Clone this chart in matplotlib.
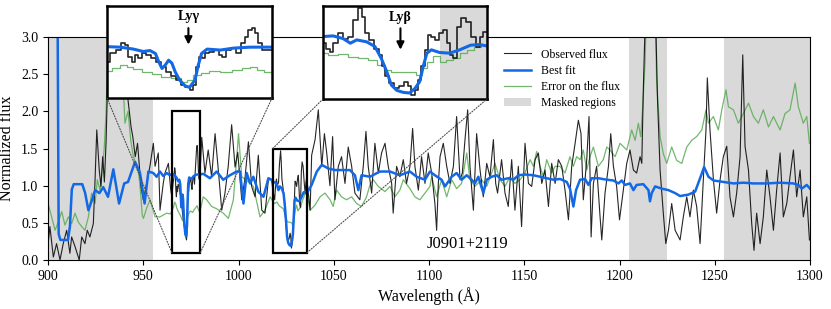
import numpy as np
import matplotlib
matplotlib.use("Agg")
import matplotlib.pyplot as plt
from matplotlib.patches import Rectangle, ConnectionPatch

plt.rcParams['font.family'] = ['Liberation Serif', 'DejaVu Serif']

# (wavelength, flux)
observed = [
    (900.0, 0.20), (901.0, 0.45), (902.8, 0.04), (904.5, 0.22), (906.3, 0.00), (908.0, 0.22),
    (909.8, 0.40), (911.5, 0.09), (912.4, 0.31), (914.2, 0.18), (916.4, 0.00), (917.7, 0.31),
    (919.4, 0.22), (920.6, 0.40), (922.0, 0.31), (923.8, 0.49), (924.7, 1.08), (925.6, 1.75),
    (926.9, 1.21), (927.8, 0.99), (928.7, 1.39), (929.6, 1.05), (930.5, 1.60), (931.5, 2.60),
    (933.0, 3.40), (935.0, 3.80), (937.0, 3.30), (939.0, 2.70), (941.0, 2.40), (941.8, 2.20),
    (943.6, 1.79), (944.5, 1.66), (945.8, 1.39), (947.0, 1.57), (948.8, 0.99), (950.0, 0.81),
    (951.8, 1.03), (953.5, 1.26), (955.3, 1.57), (956.2, 1.26), (957.9, 1.44), (958.8, 0.67),
    (960.5, 1.03), (961.4, 1.17), (963.2, 1.30), (964.4, 0.95),
    (965.0, 0.85), (965.6, 1.02), (966.0, 1.09), (966.5, 1.24), (966.8, 1.19), (967.1, 0.95),
    (967.4, 0.85), (967.7, 0.99), (968.0, 0.92), (968.3, 1.02), (968.8, 0.99), (969.2, 0.92),
    (969.7, 0.85), (970.1, 0.75), (970.6, 0.64), (971.0, 0.55), (971.5, 0.47), (971.9, 0.37),
    (972.3, 0.32), (972.7, 0.27), (973.0, 0.37), (973.2, 0.75), (973.5, 0.95), (973.8, 0.92),
    (974.1, 1.02), (974.5, 1.06), (975.0, 1.09), (975.3, 0.99), (975.6, 0.95), (976.0, 1.09),
    (976.5, 1.13), (976.9, 1.02), (977.4, 1.23), (977.7, 1.37), (978.0, 1.50), (978.3, 1.54),
    (978.6, 1.44), (978.9, 1.23), (979.2, 1.09), (979.7, 1.09),
    (980.7, 1.65), (982.4, 1.17), (984.1, 1.48), (985.9, 1.12), (987.7, 1.70), (989.4, 1.21),
    (991.2, 0.67), (992.9, 0.90), (994.6, 1.26), (996.4, 1.82), (998.2, 1.25), (999.6, 1.45),
    (1001.7, 0.81), (1003.4, 1.10), (1005.2, 1.59), (1006.9, 0.99), (1008.7, 0.85), (1010.4, 1.41),
    (1012.2, 0.67), (1013.9, 0.63), (1015.7, 1.08), (1017.4, 1.08),
    (1018.0, 0.94), (1018.6, 0.86), (1019.0, 0.81), (1019.3, 0.94), (1019.9, 1.09), (1020.4, 1.01),
    (1021.0, 1.04), (1021.5, 1.29), (1022.1, 1.47), (1022.4, 1.34), (1022.8, 1.09), (1023.3, 0.99),
    (1023.9, 0.86), (1024.3, 0.76), (1024.6, 0.59), (1025.0, 0.44), (1025.5, 0.34), (1026.1, 0.26),
    (1026.6, 0.29), (1027.1, 0.36), (1027.5, 0.29), (1027.8, 0.16), (1028.3, 0.24), (1028.6, 0.39),
    (1029.0, 0.59), (1029.4, 0.84), (1029.7, 1.06), (1030.1, 1.04), (1030.5, 0.99), (1031.0, 1.09),
    (1031.4, 1.14), (1031.8, 0.94), (1032.1, 0.76), (1032.5, 0.71), (1033.0, 1.19), (1033.4, 1.32),
    (1033.9, 1.26), (1034.5, 1.04), (1035.0, 0.89), (1035.4, 1.04), (1035.8, 1.11),
    (1037.6, 0.67), (1038.4, 1.41), (1040.2, 1.62), (1041.9, 2.02), (1043.7, 1.26), (1045.1, 1.70),
    (1046.3, 1.44), (1048.0, 1.00), (1049.4, 1.66), (1050.6, 0.81), (1052.4, 1.26), (1054.1, 1.39),
    (1055.9, 1.03), (1057.6, 1.52), (1059.4, 1.26), (1061.1, 0.90), (1063.7, 0.81), (1065.5, 1.26),
    (1066.9, 1.73), (1068.1, 1.26), (1069.9, 0.90), (1071.6, 1.57), (1073.4, 1.17), (1075.1, 1.44),
    (1076.9, 1.57), (1078.6, 1.26), (1080.4, 1.03), (1081.2, 0.63), (1083.0, 1.26), (1084.7, 1.12),
    (1086.5, 1.35), (1088.2, 1.03), (1090.0, 1.26), (1091.4, 1.77), (1092.6, 1.26), (1094.4, 0.94),
    (1096.1, 1.39), (1097.9, 1.03), (1099.6, 1.44), (1101.4, 1.17), (1103.1, 0.76), (1104.0, 0.40),
    (1104.9, 1.03), (1105.8, 1.39), (1107.5, 1.57), (1109.3, 1.26), (1111.0, 1.03), (1112.8, 1.26),
    (1114.5, 1.93), (1116.3, 1.08), (1117.5, 1.17), (1118.9, 1.62), (1120.3, 2.02), (1121.5, 1.26),
    (1123.3, 0.67), (1125.0, 1.70), (1126.8, 1.21), (1128.5, 0.85), (1130.3, 1.30), (1132.0, 1.12),
    (1133.8, 1.62), (1135.0, 1.03), (1136.0, 0.90), (1138.1, 1.35), (1139.9, 0.90), (1141.6, 0.72),
    (1143.4, 1.35), (1145.1, 0.67), (1146.9, 1.26), (1148.6, 0.45), (1150.4, 1.57), (1152.2, 1.03),
    (1153.9, 0.99), (1155.7, 1.35), (1157.4, 1.44), (1159.2, 1.03), (1160.9, 1.21), (1162.7, 0.72),
    (1164.4, 1.30), (1166.2, 1.03), (1167.9, 1.35), (1169.7, 1.26), (1171.4, 0.94), (1173.2, 0.54),
    (1174.9, 1.26), (1176.7, 1.57), (1178.4, 1.88), (1179.8, 1.70), (1181.0, 0.81), (1182.8, 1.35),
    (1184.0, 1.93), (1185.1, 0.31), (1186.3, 1.03), (1188.0, 1.26), (1189.8, 0.58), (1190.7, 0.27),
    (1192.4, 0.90), (1194.2, 1.26), (1195.4, 1.70), (1196.8, 1.26), (1198.5, 0.99), (1200.0, 0.54),
    (1202.0, 0.94), (1203.8, 1.30), (1205.5, 1.48), (1207.3, 1.21), (1209.0, 1.17), (1210.8, 1.39),
    (1211.7, 1.30), (1212.5, 2.29), (1213.9, 3.60), (1216.0, 4.20), (1218.7, 3.60), (1219.9, 2.20),
    (1221.3, 1.21), (1223.0, 0.63), (1224.3, 0.22), (1225.7, 0.40), (1227.4, 0.76), (1229.2, 0.40),
    (1231.8, 0.27), (1233.5, 0.58), (1235.3, 0.85), (1237.0, 0.58), (1238.8, 0.94), (1240.5, 0.72),
    (1242.3, 0.22), (1244.0, 1.08), (1245.4, 1.75), (1246.1, 2.45), (1247.5, 1.75), (1249.3, 1.08),
    (1251.0, 0.63), (1252.8, 1.08), (1254.5, 1.39), (1256.3, 1.53), (1258.0, 0.85), (1259.8, 0.58),
    (1261.5, 0.90), (1263.3, 1.39), (1264.7, 2.76), (1265.9, 1.53), (1267.7, 1.21), (1269.4, 0.49),
    (1270.6, 0.13), (1272.0, 0.63), (1273.8, 0.22), (1275.5, 0.58), (1277.3, 1.21), (1279.0, 0.85),
    (1280.8, 0.40), (1282.5, 0.94), (1284.3, 1.44), (1286.0, 0.58), (1287.8, 0.76), (1289.5, 1.12),
    (1291.3, 1.48), (1293.0, 0.85), (1294.8, 1.21), (1296.5, 0.58), (1298.3, 0.85), (1299.7, 0.27),
]

best_fit = [
    (905.0, 3.50), (905.6, 0.35), (906.5, 0.27), (910.5, 0.27), (911.5, 0.45), (912.5, 0.95),
    (913.5, 1.02), (918.0, 1.02), (919.5, 0.90), (921.2, 0.67), (923.0, 0.80), (924.7, 0.94),
    (927.0, 0.90), (929.0, 0.98), (931.5, 0.85), (934.3, 1.22), (937.3, 0.76), (940.0, 1.03),
    (942.0, 1.05), (945.7, 1.32), (948.3, 1.17), (950.7, 0.76), (952.7, 1.19), (955.3, 1.17),
    (957.0, 1.12), (958.8, 1.19), (960.5, 1.13), (962.3, 1.17), (964.0, 1.14),
    (965.0, 1.16), (966.2, 1.15), (967.4, 1.11), (968.3, 1.06), (968.9, 1.08), (969.4, 1.02),
    (969.7, 0.85), (970.0, 0.71), (970.3, 0.78), (970.6, 0.88), (970.9, 0.82), (971.2, 0.64),
    (971.6, 0.47), (972.1, 0.35), (972.5, 0.32), (973.0, 0.47), (973.3, 0.78), (973.6, 1.02),
    (974.1, 1.11), (975.3, 1.09), (976.5, 1.13), (978.0, 1.15), (979.7, 1.15),
    (981.5, 1.16), (985.0, 1.10), (988.5, 1.19), (992.0, 1.08), (995.5, 1.14), (999.0, 1.19),
    (1000.8, 1.19), (1002.6, 0.76), (1004.3, 1.17), (1006.1, 1.03), (1007.8, 1.12), (1010.4, 0.92),
    (1013.1, 0.85), (1015.7, 1.10), (1017.4, 1.08),
    (1018.0, 1.04), (1019.1, 1.05), (1020.2, 1.01), (1021.0, 0.94), (1021.7, 0.99), (1022.8, 0.96),
    (1023.7, 0.89), (1024.4, 0.71), (1025.0, 0.51), (1025.5, 0.31), (1026.1, 0.23), (1026.8, 0.20),
    (1027.5, 0.19), (1028.1, 0.26), (1028.6, 0.36), (1029.0, 0.59), (1029.4, 0.79), (1029.9, 0.84),
    (1030.8, 0.80), (1031.9, 0.79), (1033.0, 0.84), (1034.2, 0.91), (1035.2, 0.92), (1035.9, 0.90),
    (1038.4, 1.01), (1041.1, 1.19), (1043.7, 1.28), (1047.2, 1.23), (1050.7, 1.21), (1053.2, 1.21),
    (1058.5, 1.21), (1061.1, 1.14), (1062.9, 0.94), (1064.6, 1.14), (1069.0, 1.12), (1074.2, 1.19),
    (1079.5, 1.19), (1084.7, 1.14), (1090.0, 1.19), (1093.5, 1.12), (1097.9, 1.08), (1100.5, 1.19),
    (1103.1, 1.14), (1106.6, 1.08), (1108.4, 0.99), (1111.9, 1.12), (1114.5, 1.17), (1117.1, 1.08),
    (1119.8, 1.14), (1122.4, 1.08), (1124.1, 1.03), (1125.9, 1.12), (1128.5, 0.90), (1130.3, 1.08),
    (1132.9, 1.12), (1135.5, 1.14), (1138.1, 1.08), (1141.6, 1.10), (1144.3, 1.08), (1146.9, 1.14),
    (1150.4, 1.15), (1154.8, 1.14), (1158.3, 1.12), (1161.8, 1.10), (1165.3, 1.08), (1168.8, 1.09),
    (1172.3, 1.05), (1174.0, 0.96), (1175.8, 0.72), (1177.2, 0.94), (1179.3, 1.08), (1181.9, 1.09),
    (1183.7, 1.01), (1185.4, 1.10), (1188.9, 1.10), (1193.3, 1.08), (1196.8, 1.07), (1199.4, 1.03),
    (1201.2, 1.07), (1202.9, 1.01), (1205.5, 1.03), (1207.3, 0.94), (1209.0, 1.01), (1212.5, 1.02),
    (1215.2, 0.94), (1216.0, 0.79), (1216.9, 0.90), (1218.7, 0.99), (1222.2, 0.96), (1225.7, 0.94),
    (1229.2, 0.90), (1231.8, 0.86), (1236.2, 0.88), (1239.7, 0.92), (1242.3, 1.10), (1244.4, 1.25),
    (1246.7, 1.12), (1249.3, 1.07), (1254.5, 1.05), (1259.8, 1.03), (1265.0, 1.04), (1270.3, 1.03),
    (1277.3, 1.03), (1284.3, 1.04), (1291.3, 1.03), (1293.9, 1.01), (1295.7, 0.96), (1298.3, 1.01),
    (1300.0, 0.96),
]

flux_error = [
    (900.0, 0.76), (901.9, 0.58), (903.7, 0.40), (905.4, 0.51), (907.2, 0.65), (908.9, 0.47),
    (910.7, 0.58), (912.4, 0.49), (914.2, 0.63), (915.9, 0.51), (917.7, 0.45), (919.4, 0.40),
    (921.2, 0.58), (922.9, 0.90), (924.7, 0.76), (925.9, 1.08), (927.3, 0.94), (928.5, 1.21),
    (929.5, 1.50), (930.5, 2.00), (931.5, 2.80), (933.0, 3.30), (935.0, 3.50), (937.0, 3.20),
    (939.0, 2.60), (940.4, 1.84), (942.0, 2.00), (943.5, 1.60), (944.8, 1.39), (947.4, 1.21),
    (948.3, 1.00), (949.5, 0.60), (950.1, 0.56), (951.8, 0.70), (953.6, 0.81), (956.2, 0.58),
    (958.8, 0.58), (962.3, 0.63), (964.3, 0.62),
    (965.0, 0.66), (965.9, 0.71), (966.5, 0.78), (967.1, 0.75), (967.7, 0.69), (968.6, 0.64),
    (969.5, 0.60), (970.4, 0.54), (971.3, 0.51), (972.1, 0.44), (972.5, 0.47), (973.2, 0.57),
    (973.8, 0.62), (974.7, 0.66), (975.9, 0.64), (976.8, 0.68), (977.7, 0.71), (978.3, 0.73),
    (978.9, 0.68), (979.7, 0.64),
    (981.5, 0.85), (983.3, 0.81), (985.9, 0.72), (988.5, 0.69), (992.0, 0.63), (994.7, 0.56),
    (997.3, 0.81), (999.0, 1.35), (1000.0, 1.70), (1001.7, 1.12), (1005.2, 1.05), (1007.8, 0.99),
    (1011.3, 0.58), (1013.9, 0.67), (1016.6, 0.85),
    (1018.0, 0.79), (1019.1, 0.76), (1020.2, 0.78), (1021.3, 0.73), (1022.4, 0.71), (1023.5, 0.69),
    (1024.4, 0.61), (1025.0, 0.54), (1025.9, 0.51), (1026.8, 0.51), (1027.9, 0.50), (1028.6, 0.46),
    (1029.2, 0.56), (1029.7, 0.66), (1030.5, 0.74), (1031.2, 0.66), (1031.9, 0.69), (1032.7, 0.71),
    (1033.4, 0.79), (1034.2, 0.84), (1034.9, 0.89), (1035.8, 0.91),
    (1037.6, 0.67), (1040.2, 0.74), (1042.8, 0.85), (1045.4, 0.90), (1048.1, 0.81), (1049.7, 0.72),
    (1051.5, 0.94), (1054.1, 0.85), (1056.7, 0.81), (1059.4, 0.85), (1062.0, 0.76), (1064.6, 0.72),
    (1067.2, 0.85), (1069.0, 1.01), (1070.7, 1.08), (1073.4, 0.99), (1076.9, 0.92), (1079.5, 0.99),
    (1082.1, 0.85), (1084.7, 0.94), (1086.5, 1.08), (1090.0, 0.96), (1092.6, 0.85), (1095.2, 0.81),
    (1097.9, 0.90), (1100.5, 0.99), (1101.4, 1.12), (1104.0, 0.85), (1106.6, 1.08), (1109.3, 0.85),
    (1111.9, 1.08), (1114.5, 0.96), (1117.1, 1.03), (1119.8, 1.44), (1121.5, 1.08), (1124.1, 0.99),
    (1127.6, 1.08), (1130.3, 0.99), (1132.9, 1.17), (1134.6, 1.30), (1137.3, 1.08), (1139.9, 0.99),
    (1142.5, 1.12), (1145.1, 1.03), (1147.8, 1.08), (1150.4, 1.17), (1151.6, 1.26), (1153.1, 1.35),
    (1154.8, 1.26), (1156.5, 1.46), (1158.3, 1.26), (1160.0, 1.12), (1161.8, 1.35), (1164.4, 1.17),
    (1166.2, 1.26), (1168.8, 1.26), (1171.4, 1.17), (1174.0, 1.39), (1175.8, 1.26), (1177.5, 1.39),
    (1179.3, 1.35), (1181.0, 1.48), (1182.8, 1.21), (1184.5, 1.39), (1186.3, 1.52), (1188.9, 1.26),
    (1191.5, 1.35), (1193.3, 1.52), (1195.0, 1.48), (1197.7, 1.39), (1200.3, 1.57), (1203.8, 1.48),
    (1206.4, 1.75), (1208.2, 1.61), (1209.9, 1.84), (1211.1, 1.66), (1212.2, 2.06), (1213.4, 2.65),
    (1214.3, 3.50), (1216.0, 4.00), (1218.7, 3.30), (1219.5, 2.42), (1221.3, 1.66), (1223.0, 1.43),
    (1224.8, 1.30), (1227.4, 1.52), (1230.0, 1.34), (1232.7, 1.30), (1235.3, 1.52), (1237.9, 1.61),
    (1240.5, 1.66), (1243.2, 1.75), (1245.4, 2.02), (1246.7, 1.84), (1249.3, 1.93), (1251.9, 1.75),
    (1253.7, 2.02), (1255.9, 2.29), (1257.2, 2.06), (1259.8, 2.02), (1262.4, 1.84), (1265.0, 1.97),
    (1267.7, 2.11), (1270.3, 1.93), (1272.9, 1.84), (1275.5, 2.02), (1278.2, 1.79), (1280.8, 1.93),
    (1284.3, 1.75), (1286.9, 1.97), (1289.5, 2.02), (1292.2, 2.38), (1293.9, 2.06), (1296.5, 1.84),
    (1298.3, 1.93), (1299.7, 1.57),
]

masked_regions = [(900, 955), (1205, 1225), (1255, 1300)]
inset_masked = [(1030.8, 1036.0)]

# zoom windows: (wave_min, wave_max, flux_min, flux_max), label, line centre
zoom_windows = [(965, 980, 0.1, 2.0), (1018, 1036, 0.1, 1.5)]
zoom_labels = ["Lyγ", "Lyβ"]
zoom_lines = [972.4, 1026.5]

C_OBS = 'k'
C_FIT = '#1368e6'
C_ERR = '#5aab55'
C_MASK = '#d9d9d9'


def draw_spectrum(ax, lw_fit, steps=False):
    ds = 'steps-mid' if steps else 'default'
    w, f = np.array(flux_error).T
    ax.plot(w, f, color=C_ERR, lw=0.9, alpha=0.85, drawstyle=ds, label='Error on the flux')
    w, f = np.array(observed).T
    ax.plot(w, f, color=C_OBS, lw=0.8 if not steps else 1.2, alpha=0.85, drawstyle=ds,
            label='Observed flux')
    w, f = np.array(best_fit).T
    ax.plot(w, f, color=C_FIT, lw=lw_fit, label='Best fit')


def main():
    fig = plt.figure(figsize=(8.31, 3.09), dpi=100)
    ax = fig.add_axes([48 / 831, 1 - 260 / 309, 762 / 831, 223 / 309])

    for a, b in masked_regions:
        ax.axvspan(a, b, color=C_MASK, lw=0, zorder=0, label='Masked regions')
    draw_spectrum(ax, 1.8)

    ax.set_xlim(900, 1300)
    ax.set_ylim(0, 3.0)
    ax.set_xticks(np.arange(900, 1301, 50))
    ax.set_yticks(np.arange(0, 3.01, 0.5))
    ax.yaxis.set_major_formatter(plt.FormatStrFormatter('%.1f'))
    ax.tick_params(labelsize=10)
    ax.set_xlabel('Wavelength (Å)', fontsize=11.5, labelpad=3)
    ax.set_ylabel('Normalized flux', fontsize=11.5, labelpad=4)
    ax.text(0.551, 0.035, 'J0901+2119', transform=ax.transAxes, fontsize=12, ha='center', va='bottom')

    # legend without frame
    h, l = ax.get_legend_handles_labels()
    order = ['Observed flux', 'Best fit', 'Error on the flux', 'Masked regions']
    hh = [h[l.index(k)] for k in order]
    ax.legend(hh, order, loc='upper left', bbox_to_anchor=(0.588, 0.985), frameon=False,
              fontsize=8.5, handlelength=2.3, labelspacing=0.35, borderpad=0.2)

    # zoom boxes and insets
    inset_pos = [[107 / 831, 1 - 98 / 309, 165 / 831, 92 / 309],
                 [323 / 831, 1 - 99 / 309, 164 / 831, 93 / 309]]
    for k, (x0, x1, y0, y1) in enumerate(zoom_windows):
        ax.add_patch(Rectangle((x0, y0), x1 - x0, y1 - y0, fill=False, ec='k', lw=1.6, zorder=5))
        axins = fig.add_axes(inset_pos[k])
        if k == 1:
            for a, b in inset_masked:
                axins.axvspan(a, b, color=C_MASK, lw=0, zorder=0)
        draw_spectrum(axins, 2.2, steps=True)
        axins.set_xlim(x0, x1)
        axins.set_ylim(y0, y1)
        axins.set_xticks([])
        axins.set_yticks([])
        for s in axins.spines.values():
            s.set_linewidth(1.8)
        yr = y1 - y0
        axins.annotate('', xy=(zoom_lines[k], y0 + yr * (0.55 if k == 0 else 0.5)),
                       xytext=(zoom_lines[k], y0 + yr * 0.79),
                       arrowprops=dict(arrowstyle='-|>', color='k', lw=1.5, mutation_scale=11))
        axins.text(zoom_lines[k], y0 + yr * 0.81, zoom_labels[k], ha='center', va='bottom',
                   fontsize=10, fontweight='bold')

        # dotted connectors
        if k == 0:
            pairs = [((x0, y0), (0, 0)), ((x1, y0), (1, 0))]
        else:
            pairs = [((x0, y1), (0, 0)), ((x1, y0), (1, 0))]
        for pa, pb in pairs:
            con = ConnectionPatch(xyA=pa, coordsA=ax.transData, xyB=pb, coordsB=axins.transAxes,
                                  ls=(0, (1, 1.5)), color='0.3', lw=0.8)
            fig.add_artist(con)

    fig.savefig('out.png', dpi=100)


if __name__ == "__main__":
    main()
